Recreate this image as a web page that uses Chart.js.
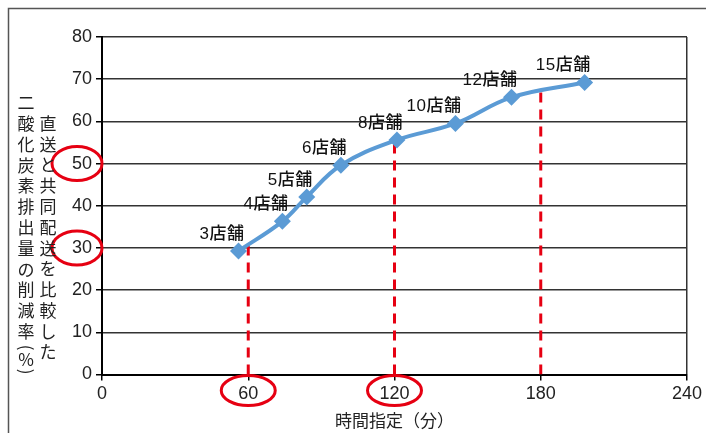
<!DOCTYPE html>
<html><head><meta charset="utf-8">
<script src="https://cdn.jsdelivr.net/npm/chart.js@4.4.1/dist/chart.umd.min.js"></script>
<style>html,body{margin:0;padding:0;background:#fff;}#wrap{width:706px;height:433px;position:relative;}</style>
</head><body><div id="wrap"><canvas id="c" width="706" height="433"></canvas></div>
<script>
// ---- data ----
const minutes = [56, 74, 84, 98, 121, 145, 168, 198];
const reduction = [29.3, 36.3, 42.1, 49.6, 55.6, 59.5, 65.7, 69.2];
const storeLabels = ['3店舗', '4店舗', '5店舗', '6店舗', '8店舗', '10店舗', '12店舗', '15店舗'];
const guideMinutes = [60, 120, 180];
const guideTops = [31.0, 55.3, 67.5];
const xTickValues = [0, 60, 120, 180, 240];
const yTickValues = [0, 10, 20, 30, 40, 50, 60, 70, 80];
const xTitle = '時間指定（分）';
const yTitleOuter = '二酸化炭素排出量の削減率(%)';
const yTitleInner = '直送と共同配送を比較した';
const circledY = [50, 30];
const circledX = [60, 120];

const BLUE = '#5B9BD5';
const RED = '#E60012';
const GRID = '#333';
const TEXT = '#222';
const CJK = '"Noto Sans CJK JP"';

const datasets = [{
  label: 'main',
  data: minutes.map((m, i) => ({x: m, y: reduction[i]})),
  borderColor: BLUE, backgroundColor: BLUE, borderWidth: 4,
  pointStyle: 'rectRot', pointRadius: 8.5, pointBorderWidth: 0,
  tension: 0.4, fill: false
}];
guideMinutes.forEach((m, i) => {
  datasets.push({
    label: 'guide' + m,
    data: [{x: m, y: 0}, {x: m, y: guideTops[i]}],
    borderColor: RED, borderWidth: 3, borderDash: [10, 7],
    pointRadius: 0, fill: false, tension: 0
  });
});

const framePlugin = {
  id: 'frame',
  beforeDraw(chart) {
    const c = chart.ctx;
    c.save();
    c.fillStyle = '#fff';
    c.fillRect(0, 0, chart.width, chart.height);
    c.strokeStyle = '#555'; c.lineWidth = 1.5;
    c.beginPath();
    c.moveTo(8.5, chart.height); c.lineTo(8.5, 8.5); c.lineTo(chart.width, 8.5);
    c.stroke();
    c.restore();
  }
};

const yTitlePlugin = {
  id: 'yTitleVertical',
  afterDraw(chart) {
    const c = chart.ctx;
    const left = chart.chartArea.left;
    c.save();
    c.fillStyle = TEXT;
    c.font = '17px ' + CJK;
    c.textAlign = 'center'; c.textBaseline = 'middle';
    const drawColumn = (text, x, y0) => {
      let y = y0, prevAdv = null;
      for (const ch of text) {
        const narrow = /[()%]/.test(ch);
        const adv = narrow ? 12 : 20.76;
        if (prevAdv !== null) y += (prevAdv + adv) / 2;
        if (ch === '(' || ch === ')') {
          c.save(); c.translate(x, y); c.rotate(Math.PI / 2);
          c.fillText(ch, 0, 0); c.restore();
        } else {
          c.fillText(ch, x, y);
        }
        prevAdv = adv;
      }
    };
    drawColumn(yTitleOuter, left - 76, 103);
    drawColumn(yTitleInner, left - 54, 123.5);
    c.restore();
  }
};

const labelPlugin = {
  id: 'pointLabels',
  afterDatasetsDraw(chart) {
    const c = chart.ctx;
    const meta = chart.getDatasetMeta(0);
    c.save();
    c.fillStyle = '#111';
    c.font = '500 17px "Liberation Sans", ' + CJK;
    c.letterSpacing = '0.5px';
    c.textAlign = 'right'; c.textBaseline = 'middle';
    meta.data.forEach((pt, i) => {
      c.fillText(storeLabels[i], pt.x + 6, pt.y - 17);
    });
    c.restore();
  }
};

const circlePlugin = {
  id: 'circles',
  afterDraw(chart) {
    const c = chart.ctx, xs = chart.scales.x, ys = chart.scales.y;
    c.save();
    c.strokeStyle = RED; c.lineWidth = 3;
    circledY.forEach(v => {
      c.beginPath();
      c.ellipse(xs.left - 25, ys.getPixelForValue(v), 25, 17, 0, 0, Math.PI * 2);
      c.stroke();
    });
    circledX.forEach(v => {
      c.beginPath();
      c.ellipse(xs.getPixelForValue(v), ys.bottom + 16, 27, 15, 0, 0, Math.PI * 2);
      c.stroke();
    });
    c.restore();
  }
};

new Chart(document.getElementById('c'), {
  type: 'line',
  data: {datasets},
  plugins: [framePlugin, labelPlugin, circlePlugin, yTitlePlugin],
  options: {
    responsive: false, animation: false, devicePixelRatio: 1,
    layout: {padding: {top: 37, right: 19, left: 0, bottom: 0}},
    plugins: {legend: {display: false}, tooltip: {enabled: false}},
    scales: {
      x: {
        type: 'linear', min: 0, max: 240,
        afterBuildTicks: s => { s.ticks = xTickValues.map(v => ({value: v})); },
        afterFit: s => { s.height = 58.5; },
        ticks: {color: TEXT, font: {family: '"Liberation Sans"', size: 18}, padding: 3, maxRotation: 0},
        grid: {
          drawOnChartArea: true, lineWidth: 1.5, tickLength: 6, tickColor: '#000',
          color: ctx => (ctx.tick && ctx.tick.value === 240) ? GRID : 'rgba(0,0,0,0)'
        },
        border: {display: true, color: '#000', width: 2},
        title: {display: true, text: xTitle, color: TEXT, font: {family: CJK, size: 17}, padding: {top: 2, bottom: 2}}
      },
      y: {
        type: 'linear', min: 0, max: 80,
        afterBuildTicks: s => { s.ticks = yTickValues.map(v => ({value: v})); },
        afterFit: s => { s.width = 102; },
        ticks: {color: TEXT, font: {family: '"Liberation Sans"', size: 18}, padding: 4},
        grid: {color: GRID, lineWidth: 1.5, tickLength: 6, tickColor: '#000'},
        border: {display: true, color: '#000', width: 2}
      }
    }
  }
});
</script></body></html>
